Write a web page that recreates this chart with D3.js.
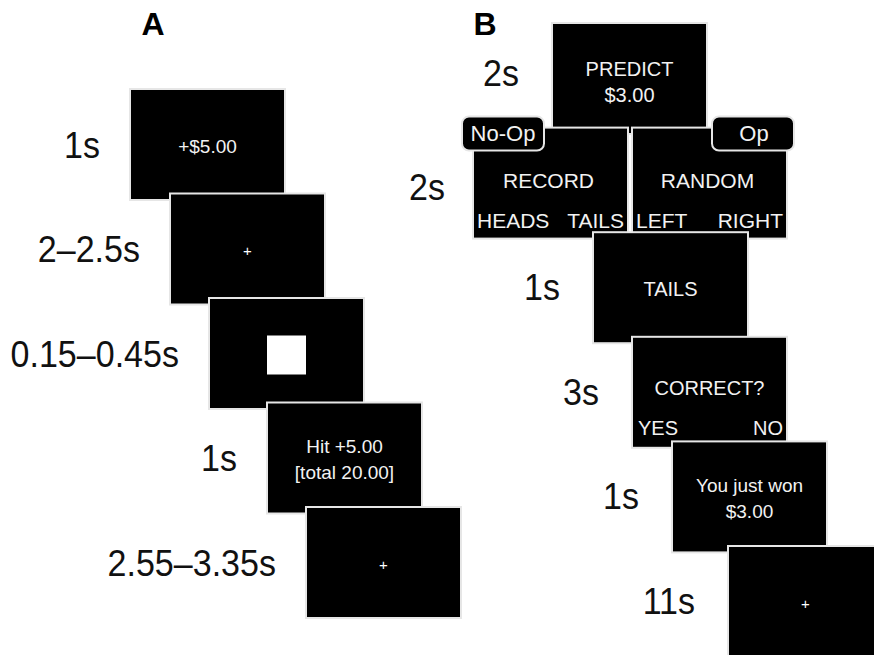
<!DOCTYPE html>
<html>
<head>
<meta charset="utf-8">
<script src="https://cdn.jsdelivr.net/npm/d3@7"></script>
<style>
  body { margin: 0; background: #fff; }
  svg { display: block; }
</style>
</head>
<body>
<svg id="figure"></svg>
<script>
// Panel A: monetary incentive delay trial
const durationsA = ['1s', '2\u20132.5s', '0.15\u20130.45s', '1s', '2.55\u20133.35s'];
const screensA = [['+$5.00'], ['+'], [], ['Hit +5.00', '[total 20.00]'], ['+']];
const targetStep = 2; // the screen with the white square

// Panel B: prediction trial
const durationsB = ['2s', '2s', '1s', '3s', '1s', '11s'];
const screensB = [['PREDICT', '$3.00'], [], ['TAILS'], ['CORRECT?'], ['You just won', '$3.00'], ['+']];
const branchNames = ['RECORD', 'RANDOM'];
const branchTabs = ['No-Op', 'Op'];
const branchKeys = [['HEADS', 'TAILS'], ['LEFT', 'RIGHT']];
const answerKeys = ['YES', 'NO'];

// layout
const width = 874;
const height = 655;
const boxW = 155, boxH = 111;
const colA = [130, 170, 209, 267, 306];
const colB = [552, null, 593, 632, 672, 728];
const branchX = [473, 632];

const svg = d3.select('#figure')
    .attr('width', width)
    .attr('height', height)
    .style('font-family', '"Liberation Sans", Arial, sans-serif');

const yA = d3.scaleLinear().domain([0, durationsA.length - 1]).range([89, 507]);
const yB = d3.scaleLinear().domain([0, durationsB.length - 1]).range([23, 546]);

function screen(g, x, y) {
    g.append('rect')
        .attr('x', x).attr('y', y)
        .attr('width', boxW).attr('height', boxH)
        .attr('fill', '#000')
        .attr('stroke', '#e6e6e6')
        .attr('stroke-width', 2);
}

function lines(g, cx, cy, txt, size, gap) {
    const n = txt.length;
    txt.forEach((t, i) => {
        g.append('text')
            .attr('x', cx)
            .attr('y', cy + (i - (n - 1) / 2) * gap)
            .attr('text-anchor', 'middle')
            .attr('dominant-baseline', 'central')
            .attr('fill', t === '+' ? '#fff' : '#f2f2f2')
            .attr('font-size', t === '+' ? 15 : size)
            .text(t);
    });
}

// durations: slightly condensed, right aligned next to each screen
function durationLabel(x, cy, t) {
    svg.append('text')
        .attr('transform', `translate(${x},${cy}) scale(0.92,1)`)
        .attr('text-anchor', 'end')
        .attr('dominant-baseline', 'central')
        .attr('font-size', 37)
        .attr('fill', '#111')
        .text(t);
}

// panel letters
svg.append('text').attr('x', 153).attr('y', 35).attr('text-anchor', 'middle')
    .attr('font-size', 32).attr('font-weight', 'bold').text('A');
svg.append('text').attr('x', 485).attr('y', 35).attr('text-anchor', 'middle')
    .attr('font-size', 32).attr('font-weight', 'bold').text('B');

// ---- Panel A
durationsA.forEach((d, i) => {
    const g = svg.append('g');
    const x = colA[i], y = yA(i);
    screen(g, x, y);
    if (i === targetStep) {
        g.append('rect')
            .attr('x', x + boxW / 2 - 19.5).attr('y', y + boxH / 2 - 18)
            .attr('width', 39).attr('height', 39)
            .attr('fill', '#fff');
    }
    lines(g, x + boxW / 2, y + boxH / 2 + 1.5, screensA[i], 19, 26);
    durationLabel(x - 30, y + boxH / 2 + 1, d);
});

// ---- Panel B
durationsB.forEach((d, i) => {
    const g = svg.append('g');
    const y = yB(i);
    if (i === 1) {
        branchX.forEach((x, k) => {
            screen(g, x, y);
            g.append('text')
                .attr('x', x + boxW / 2 - 2).attr('y', y + 53)
                .attr('text-anchor', 'middle').attr('dominant-baseline', 'central')
                .attr('font-size', 21).attr('fill', '#f2f2f2')
                .text(branchNames[k]);
            branchKeys[k].forEach((t, j) => {
                g.append('text')
                    .attr('x', j === 0 ? x + 4 : x + boxW - 4)
                    .attr('y', y + 93)
                    .attr('text-anchor', j === 0 ? 'start' : 'end')
                    .attr('dominant-baseline', 'central')
                    .attr('font-size', 21).attr('fill', '#f2f2f2')
                    .text(t);
            });
        });
        // condition tabs
        const tabX = [462, 712];
        branchTabs.forEach((t, k) => {
            g.append('rect')
                .attr('x', tabX[k]).attr('y', y - 11)
                .attr('width', 82).attr('height', 34)
                .attr('rx', 7)
                .attr('fill', '#000')
                .attr('stroke', '#e6e6e6').attr('stroke-width', 2);
            g.append('text')
                .attr('x', tabX[k] + 41 + (k === 1 ? 1 : 0)).attr('y', y + 6)
                .attr('text-anchor', 'middle').attr('dominant-baseline', 'central')
                .attr('font-size', 22).attr('fill', '#f2f2f2')
                .text(t);
        });
        durationLabel(branchX[0] - 28, y + boxH / 2 + 4, d);
        return;
    }
    const x = colB[i];
    screen(g, x, y);
    const cy = i === 3 ? y + 51 : y + boxH / 2 + (i === 0 ? 3 : 1.5);
    lines(g, x + boxW / 2, cy, screensB[i], i === 4 ? 19 : 20, 26);
    if (i === 3) {
        answerKeys.forEach((t, j) => {
            g.append('text')
                .attr('x', j === 0 ? x + 6 : x + boxW - 4)
                .attr('y', y + 91)
                .attr('text-anchor', j === 0 ? 'start' : 'end')
                .attr('dominant-baseline', 'central')
                .attr('font-size', 20).attr('fill', '#f2f2f2')
                .text(t);
        });
    }
    durationLabel(x - 33, y + boxH / 2 + (i === 0 ? -5 : 0), d);
});
</script>
</body>
</html>
